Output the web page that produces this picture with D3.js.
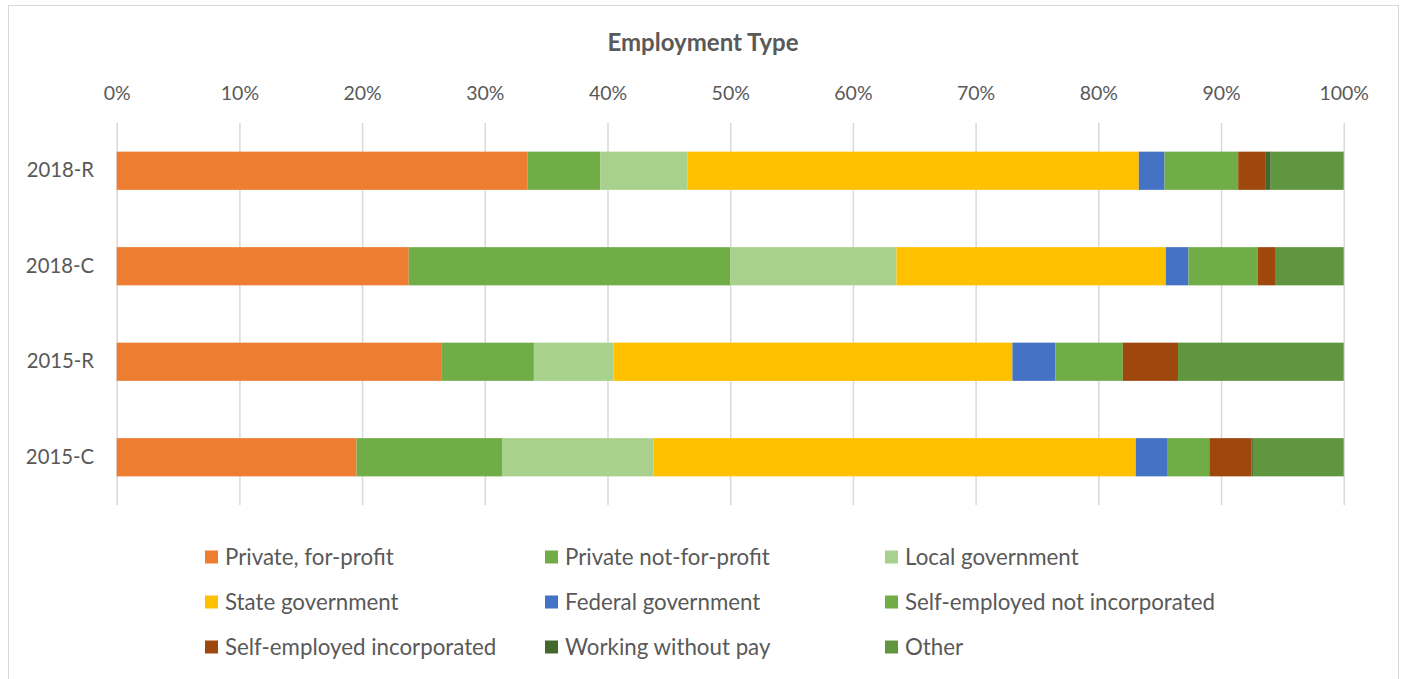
<!DOCTYPE html>
<html>
<head>
<meta charset="utf-8">
<script src="https://cdn.jsdelivr.net/npm/d3@7"></script>
<style>
  body { margin: 0; background: #fff; }
  text { font-family: Lato, "Open Sans", sans-serif; fill: #595959; }
  .axis .domain { display: none; }
  .axis--x line { stroke: #d9d9d9; stroke-width: 1.5; }
</style>
</head>
<body>
<svg width="1401" height="679"></svg>
<script>
var years = ["2018-R", "2018-C", "2015-R", "2015-C"];
var types = ["Private, for-profit", "Private not-for-profit", "Local government",
             "State government", "Federal government", "Self-employed not incorporated",
             "Self-employed incorporated", "Working without pay", "Other"];
var colors = ["#ed7d31", "#70ad47", "#a9d18e", "#ffc000", "#4472c4",
              "#70ad47", "#9e480e", "#43682b", "#5f963f"];

// percent of each row, same order as types
var privateProfit  = [33.5, 23.8, 26.5, 19.55];
var privateNonprof = [5.9, 26.2, 7.5, 11.85];
var localGov       = [7.1, 13.55, 6.5, 12.35];
var stateGov       = [36.8, 21.95, 32.5, 39.3];
var federalGov     = [2.1, 1.85, 3.5, 2.55];
var selfNotInc     = [6.0, 5.65, 5.5, 3.45];
var selfInc        = [2.2, 1.4, 4.5, 3.45];
var withoutPay     = [0.45, 0, 0, 0.1];
var other          = [5.95, 5.6, 13.5, 7.4];

var series = [privateProfit, privateNonprof, localGov, stateGov, federalGov,
              selfNotInc, selfInc, withoutPay, other];

var data = years.map(function(yr, i) {
  var row = {year: yr};
  types.forEach(function(t, j) { row[t] = series[j][i]; });
  return row;
});

var svg = d3.select("svg"),
    margin = {top: 123, left: 116.7},
    width = 1227,
    height = 382;

// chart border
svg.append("rect")
    .attr("x", 8.5).attr("y", 5.5)
    .attr("width", 1390).attr("height", 700)
    .attr("fill", "none").attr("stroke", "#d9d9d9");

svg.append("text")
    .attr("x", 703).attr("y", 51)
    .attr("text-anchor", "middle")
    .style("font-weight", "bold")
    .style("font-size", "24px")
    .text("Employment Type");

var x = d3.scaleLinear().domain([0, 1]).range([0, width]),
    y = d3.scaleBand().domain(years).range([0, height]).paddingInner(0.6).paddingOuter(0.3);

var g = svg.append("g")
    .attr("transform", "translate(" + margin.left + "," + margin.top + ")");

g.append("g")
    .attr("class", "axis axis--x")
    .call(d3.axisTop(x).ticks(10, "%").tickSize(-height).tickPadding(23.5))
    .selectAll("text").style("font-size", "19.5px");

g.append("g")
    .attr("class", "axis axis--y")
    .call(d3.axisLeft(y).tickSize(0).tickPadding(22.7))
    .selectAll("text").style("font-size", "20.3px");

var stack = d3.stack().keys(types).offset(d3.stackOffsetExpand);

g.selectAll(".layer")
  .data(stack(data))
  .enter().append("g")
    .attr("class", "layer")
    .attr("fill", function(d, i) { return colors[i]; })
  .selectAll("rect")
  .data(function(d) { return d; })
  .enter().append("rect")
    .attr("x", function(d) { return x(d[0]); })
    .attr("y", function(d) { return y(d.data.year); })
    .attr("width", function(d) { return x(d[1]) - x(d[0]); })
    .attr("height", y.bandwidth());

// legend, three columns
var legend = svg.append("g").selectAll("g")
  .data(types)
  .enter().append("g")
    .attr("transform", function(d, i) {
      return "translate(" + (205 + (i % 3) * 340) + "," + (557 + Math.floor(i / 3) * 45) + ")";
    });

legend.append("rect")
    .attr("y", -6.5)
    .attr("width", 13).attr("height", 13)
    .attr("fill", function(d, i) { return colors[i]; });

legend.append("text")
    .attr("x", 20)
    .attr("dy", "0.35em")
    .style("font-size", "22.3px")
    .text(function(d) { return d; });
</script>
</body>
</html>
